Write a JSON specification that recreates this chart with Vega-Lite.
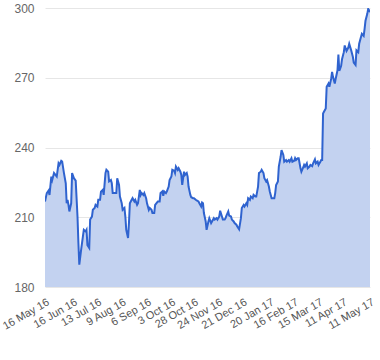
{
  "$schema": "https://vega.github.io/schema/vega-lite/v6.json",
  "width": 325,
  "height": 279,
  "autosize": {"type": "none"},
  "padding": {"left": 45, "top": 8, "right": 10, "bottom": 73},
  "background": "white",
  "config": {"view": {"stroke": null}, "font": "Liberation Sans"},
  "data": {"values": [
    {"d":"2016-05-16","v":216.8},{"d":"2016-05-18","v":220.4},{"d":"2016-05-20","v":221.5},{"d":"2016-05-21","v":219.6},
    {"d":"2016-05-23","v":227.5},{"d":"2016-05-24","v":226},{"d":"2016-05-26","v":229},{"d":"2016-05-28","v":228},
    {"d":"2016-05-29","v":227.5},{"d":"2016-05-31","v":233.2},{"d":"2016-06-01","v":232.5},{"d":"2016-06-03","v":234.3},
    {"d":"2016-06-04","v":234},{"d":"2016-06-06","v":229},{"d":"2016-06-08","v":224.6},{"d":"2016-06-09","v":216},
    {"d":"2016-06-10","v":217.5},{"d":"2016-06-11","v":215.3},{"d":"2016-06-12","v":212.5},{"d":"2016-06-14","v":216},
    {"d":"2016-06-15","v":229},{"d":"2016-06-17","v":226.8},{"d":"2016-06-19","v":225.8},{"d":"2016-06-21","v":210.3},
    {"d":"2016-06-22","v":199},{"d":"2016-06-23","v":189.6},{"d":"2016-06-25","v":196},{"d":"2016-06-27","v":201.8},
    {"d":"2016-06-28","v":204.6},{"d":"2016-06-30","v":203.9},{"d":"2016-07-01","v":204.6},{"d":"2016-07-02","v":198},
    {"d":"2016-07-04","v":196.8},{"d":"2016-07-05","v":209},{"d":"2016-07-07","v":210.3},{"d":"2016-07-08","v":213.2},
    {"d":"2016-07-10","v":214},{"d":"2016-07-11","v":215.3},{"d":"2016-07-13","v":214.6},{"d":"2016-07-14","v":217.5},
    {"d":"2016-07-16","v":217.5},{"d":"2016-07-17","v":221},{"d":"2016-07-19","v":221.8},{"d":"2016-07-20","v":219.6},
    {"d":"2016-07-22","v":229},{"d":"2016-07-23","v":230.4},{"d":"2016-07-25","v":229.6},{"d":"2016-07-26","v":225.4},
    {"d":"2016-07-28","v":226},{"d":"2016-07-29","v":224.6},{"d":"2016-07-30","v":220.4},{"d":"2016-08-01","v":220.4},
    {"d":"2016-08-03","v":220.4},{"d":"2016-08-04","v":226.8},{"d":"2016-08-06","v":223.9},{"d":"2016-08-07","v":218.9},
    {"d":"2016-08-09","v":216},{"d":"2016-08-10","v":213.2},{"d":"2016-08-12","v":214},{"d":"2016-08-13","v":210.3},
    {"d":"2016-08-14","v":204.6},{"d":"2016-08-16","v":201.1},{"d":"2016-08-17","v":207.5},{"d":"2016-08-18","v":216},
    {"d":"2016-08-20","v":217.5},{"d":"2016-08-21","v":218.2},{"d":"2016-08-23","v":216.8},{"d":"2016-08-24","v":217.5},
    {"d":"2016-08-26","v":215.3},{"d":"2016-08-27","v":216},{"d":"2016-08-29","v":221.8},{"d":"2016-08-30","v":219.6},
    {"d":"2016-08-31","v":220.4},{"d":"2016-09-02","v":219.6},{"d":"2016-09-03","v":220.4},{"d":"2016-09-05","v":218.2},
    {"d":"2016-09-06","v":216},{"d":"2016-09-08","v":213.2},{"d":"2016-09-09","v":214},{"d":"2016-09-11","v":213.2},
    {"d":"2016-09-12","v":211.8},{"d":"2016-09-14","v":211.8},{"d":"2016-09-15","v":215.3},{"d":"2016-09-17","v":216.3},
    {"d":"2016-09-18","v":216.8},{"d":"2016-09-20","v":216.8},{"d":"2016-09-21","v":220.4},{"d":"2016-09-23","v":221.1},
    {"d":"2016-09-24","v":219.2},{"d":"2016-09-25","v":221.1},{"d":"2016-09-27","v":220.4},{"d":"2016-09-28","v":221.1},
    {"d":"2016-09-30","v":223.2},{"d":"2016-10-01","v":226},{"d":"2016-10-03","v":227.5},{"d":"2016-10-04","v":230.4},
    {"d":"2016-10-06","v":230},{"d":"2016-10-07","v":229},{"d":"2016-10-08","v":231.8},{"d":"2016-10-10","v":230.4},
    {"d":"2016-10-11","v":231.1},{"d":"2016-10-13","v":229.6},{"d":"2016-10-14","v":228.2},{"d":"2016-10-15","v":223.9},
    {"d":"2016-10-17","v":229.6},{"d":"2016-10-18","v":228.2},{"d":"2016-10-20","v":229},{"d":"2016-10-21","v":227.5},
    {"d":"2016-10-22","v":223.2},{"d":"2016-10-24","v":219.6},{"d":"2016-10-25","v":218.6},{"d":"2016-10-27","v":218.2},
    {"d":"2016-10-28","v":218.2},{"d":"2016-10-30","v":217.5},{"d":"2016-10-31","v":217.2},{"d":"2016-11-02","v":216.8},
    {"d":"2016-11-03","v":216},{"d":"2016-11-05","v":214.6},{"d":"2016-11-06","v":216.3},{"d":"2016-11-07","v":216},
    {"d":"2016-11-08","v":211.8},{"d":"2016-11-10","v":208.2},{"d":"2016-11-11","v":204.6},{"d":"2016-11-13","v":208.2},
    {"d":"2016-11-14","v":209.6},{"d":"2016-11-16","v":207.5},{"d":"2016-11-17","v":208.2},{"d":"2016-11-19","v":209.6},
    {"d":"2016-11-20","v":209},{"d":"2016-11-22","v":209.6},{"d":"2016-11-23","v":209},{"d":"2016-11-25","v":210.3},
    {"d":"2016-11-26","v":212.8},{"d":"2016-11-28","v":210.3},{"d":"2016-11-29","v":209},{"d":"2016-12-01","v":209},
    {"d":"2016-12-02","v":209.6},{"d":"2016-12-03","v":210.7},{"d":"2016-12-05","v":212.5},{"d":"2016-12-06","v":210.7},
    {"d":"2016-12-08","v":210.3},{"d":"2016-12-09","v":209},{"d":"2016-12-11","v":208.2},{"d":"2016-12-12","v":207.5},
    {"d":"2016-12-14","v":206.8},{"d":"2016-12-15","v":206},{"d":"2016-12-17","v":204.8},{"d":"2016-12-19","v":209.6},
    {"d":"2016-12-20","v":214},{"d":"2016-12-22","v":215.3},{"d":"2016-12-23","v":214.6},{"d":"2016-12-25","v":216},
    {"d":"2016-12-26","v":215.3},{"d":"2016-12-27","v":218.2},{"d":"2016-12-29","v":217.5},{"d":"2016-12-30","v":218.9},
    {"d":"2017-01-01","v":218.2},{"d":"2017-01-02","v":219.6},{"d":"2017-01-04","v":218.9},{"d":"2017-01-05","v":218.9},
    {"d":"2017-01-07","v":223.2},{"d":"2017-01-08","v":229},{"d":"2017-01-10","v":229.6},{"d":"2017-01-11","v":230.4},
    {"d":"2017-01-13","v":229},{"d":"2017-01-14","v":226.8},{"d":"2017-01-16","v":225.4},{"d":"2017-01-17","v":226},
    {"d":"2017-01-19","v":223.2},{"d":"2017-01-20","v":221.1},{"d":"2017-01-22","v":218.2},{"d":"2017-01-23","v":218.2},
    {"d":"2017-01-25","v":218.2},{"d":"2017-01-26","v":220.4},{"d":"2017-01-27","v":223.9},{"d":"2017-01-29","v":225.4},
    {"d":"2017-01-30","v":231.8},{"d":"2017-02-01","v":236},{"d":"2017-02-02","v":238.9},{"d":"2017-02-04","v":236.8},
    {"d":"2017-02-05","v":233.9},{"d":"2017-02-07","v":234.6},{"d":"2017-02-08","v":233.9},{"d":"2017-02-10","v":234.6},
    {"d":"2017-02-11","v":233.9},{"d":"2017-02-13","v":235.4},{"d":"2017-02-14","v":233.9},{"d":"2017-02-16","v":234.3},
    {"d":"2017-02-17","v":235.4},{"d":"2017-02-18","v":234.6},{"d":"2017-02-20","v":235.4},{"d":"2017-02-21","v":235.4},
    {"d":"2017-02-23","v":231.1},{"d":"2017-02-24","v":229.6},{"d":"2017-02-26","v":231.5},{"d":"2017-02-27","v":232.5},
    {"d":"2017-02-28","v":231.8},{"d":"2017-03-02","v":233.2},{"d":"2017-03-03","v":231.1},{"d":"2017-03-05","v":231.8},
    {"d":"2017-03-06","v":232.5},{"d":"2017-03-08","v":232},{"d":"2017-03-09","v":233.2},{"d":"2017-03-11","v":234.9},
    {"d":"2017-03-12","v":233.2},{"d":"2017-03-14","v":233.9},{"d":"2017-03-15","v":232.5},{"d":"2017-03-17","v":233.9},
    {"d":"2017-03-18","v":234.6},{"d":"2017-03-19","v":234.6},{"d":"2017-03-20","v":254.6},{"d":"2017-03-21","v":255.4},
    {"d":"2017-03-23","v":256.8},{"d":"2017-03-24","v":266.1},{"d":"2017-03-26","v":267.5},{"d":"2017-03-27","v":266.1},
    {"d":"2017-03-29","v":269.6},{"d":"2017-03-30","v":272.5},{"d":"2017-03-31","v":270.4},{"d":"2017-04-02","v":267.5},
    {"d":"2017-04-03","v":269.6},{"d":"2017-04-05","v":273.2},{"d":"2017-04-06","v":280},{"d":"2017-04-07","v":273},
    {"d":"2017-04-09","v":275},{"d":"2017-04-10","v":278},{"d":"2017-04-12","v":281},{"d":"2017-04-13","v":283.9},
    {"d":"2017-04-15","v":281.5},{"d":"2017-04-17","v":283},{"d":"2017-04-18","v":284.6},{"d":"2017-04-20","v":282},
    {"d":"2017-04-22","v":279},{"d":"2017-04-23","v":276.5},{"d":"2017-04-25","v":275.5},{"d":"2017-04-26","v":281.8},
    {"d":"2017-04-28","v":281},{"d":"2017-04-29","v":284.6},{"d":"2017-05-01","v":287.5},{"d":"2017-05-02","v":288.9},
    {"d":"2017-05-04","v":288},{"d":"2017-05-05","v":291},{"d":"2017-05-06","v":294.5},{"d":"2017-05-08","v":297.5},
    {"d":"2017-05-09","v":299.6},{"d":"2017-05-10","v":299},{"d":"2017-05-11","v":298.2}
  ]},
  "encoding": {
    "x": {
      "field": "d", "type": "temporal", "title": null,
      "scale": {"type": "utc", "domain": [{"year": 2016, "month": 5, "date": 16, "utc": true}, {"year": 2017, "month": 5, "date": 11, "utc": true}]},
      "axis": {
        "values": [
          {"year": 2016, "month": 5, "date": 16, "utc": true},
          {"year": 2016, "month": 6, "date": 16, "utc": true},
          {"year": 2016, "month": 7, "date": 13, "utc": true},
          {"year": 2016, "month": 8, "date": 9, "utc": true},
          {"year": 2016, "month": 9, "date": 6, "utc": true},
          {"year": 2016, "month": 10, "date": 3, "utc": true},
          {"year": 2016, "month": 10, "date": 28, "utc": true},
          {"year": 2016, "month": 11, "date": 24, "utc": true},
          {"year": 2016, "month": 12, "date": 21, "utc": true},
          {"year": 2017, "month": 1, "date": 20, "utc": true},
          {"year": 2017, "month": 2, "date": 16, "utc": true},
          {"year": 2017, "month": 3, "date": 15, "utc": true},
          {"year": 2017, "month": 4, "date": 11, "utc": true},
          {"year": 2017, "month": 5, "date": 11, "utc": true}
        ],
        "format": "%-d %b %y",
        "labelAngle": -30,
        "labelAlign": "right",
        "labelBaseline": "top",
        "labelOverlap": false,
        "labelBound": false,
        "labelFlush": false,
        "labelPadding": 9,
        "labelFontSize": 11,
        "labelColor": "#555555",
        "labelFont": "Liberation Sans",
        "grid": false,
        "ticks": false,
        "domain": false
      }
    },
    "y": {
      "field": "v", "type": "quantitative", "title": null,
      "scale": {"domain": [180, 300], "nice": false, "zero": false},
      "axis": {
        "values": [180, 210, 240, 270, 300],
        "labelFontSize": 12,
        "labelColor": "#666666",
        "labelFont": "Liberation Sans",
        "labelPadding": 11,
        "grid": true,
        "gridColor": "#e6e6e6",
        "ticks": false,
        "domain": false
      }
    }
  },
  "layer": [
    {
      "mark": {"type": "area", "color": "#c3d2f0", "opacity": 1, "clip": true},
      "encoding": {"y2": {"datum": 180}}
    },
    {
      "mark": {"type": "line", "color": "#2f63cf", "strokeWidth": 2, "clip": true}
    }
  ]
}
